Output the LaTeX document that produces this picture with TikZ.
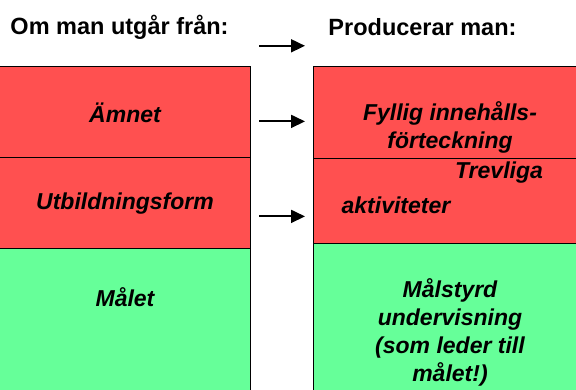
\documentclass[tikz,border=0pt]{standalone}
\usepackage{fontspec}
\setmainfont{Liberation Sans}
\usetikzlibrary{arrows.meta}

\definecolor{boxred}{RGB}{255,80,80}
\definecolor{boxgreen}{RGB}{102,255,153}

\tikzset{
  redbox/.style={draw=black, fill=boxred, line width=1.2pt, inner sep=0pt, anchor=south west},
  greenbox/.style={draw=black, fill=boxgreen, line width=1.2pt, inner sep=0pt, anchor=south west},
  boxtext/.style={font=\fontsize{23}{28}\selectfont\bfseries\itshape, align=center, inner sep=0pt},
  headtext/.style={font=\fontsize{23.5}{28}\selectfont\bfseries, inner sep=0pt},
  arr/.style={line width=1.8pt, -{Triangle[length=14pt,width=13pt]}}
}

\begin{document}
\begin{tikzpicture}[x=1pt,y=1pt]
   \useasboundingbox (0,0) rectangle (576,390);

   \node[redbox, minimum width=255pt, minimum height=91pt] (amnet) at (-5,232) {};
   \node[redbox, minimum width=255pt, minimum height=91pt] (utb) at (-5,141) {};
   \node[greenbox, minimum width=255pt, minimum height=146pt] (malet) at (-5,-5) {};

   \node[redbox, minimum width=268pt, minimum height=92pt] (fyllig) at (313,231) {};
   \node[redbox, minimum width=268pt, minimum height=85pt] (trevliga) at (313,146) {};
   \node[greenbox, minimum width=268pt, minimum height=151pt] (malstyrd) at (313,-5) {};

   \node[headtext] (headl) at (119.5,363) {Om man utgår från:};
   \node[headtext] (headr) at (422.5,363) {Producerar man:};

   \node[boxtext] (tamnet) at (125,277) {Ämnet};
   \node[boxtext] (tutb) at (125,186) {Utbildningsform};
   \node[boxtext] (tmalet) at (125,93) {Målet};

   \node[boxtext] (tfyllig) at (450,263) {Fyllig innehålls-\\förteckning};
   \node[boxtext] (ttrev) at (499,217) {Trevliga};
   \node[boxtext] (takt) at (396,185) {aktiviteter};
   \node[boxtext] (tmalstyrd) at (450,58) {Målstyrd\\undervisning\\(som leder till\\målet!)};

   \draw[arr] ([xshift=8pt,yshift=20pt]amnet.north east) -- ([xshift=-8pt,yshift=20pt]fyllig.north west);
   \draw[arr] ([xshift=8pt,yshift=-9.5pt]amnet.east) coordinate (s1) -- ([xshift=-8pt]s1 -| fyllig.west);
   \draw[arr] ([xshift=8pt,yshift=-13.5pt]utb.east) coordinate (s2) -- ([xshift=-8pt]s2 -| trevliga.west);
\end{tikzpicture}
\end{document}
